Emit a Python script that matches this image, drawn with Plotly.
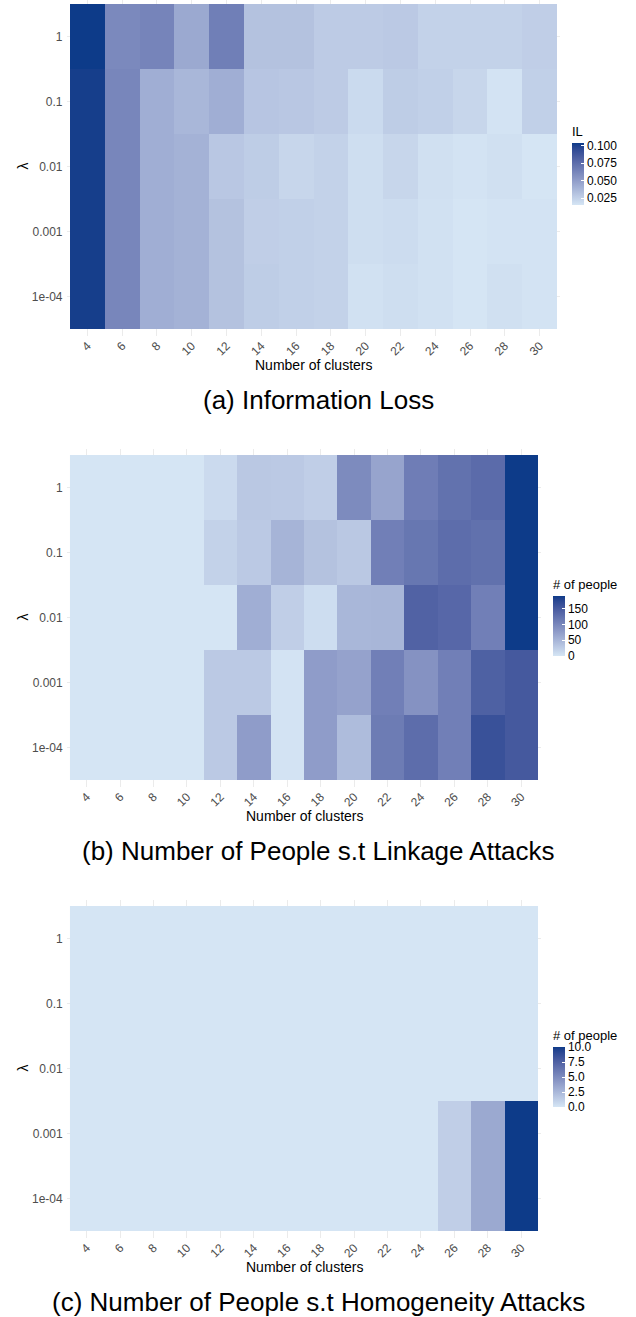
import plotly.graph_objects as go

# ---------------- data ----------------
clusters = ["4", "6", "8", "10", "12", "14", "16", "18", "20", "22", "24", "26", "28", "30"]
lambdas_top_down = ["1", "0.1", "0.01", "0.001", "1e-04"]

# (a) Information loss, rows lambda = 1, 0.1, 0.01, 0.001, 1e-04
il_l1 = [0.104, 0.0606, 0.0632, 0.0446, 0.0659, 0.0322, 0.0322, 0.0278, 0.0278, 0.0287, 0.0243, 0.0243, 0.0243, 0.0260]
il_l01 = [0.102, 0.0624, 0.0420, 0.0376, 0.0420, 0.0305, 0.0296, 0.0278, 0.0207, 0.0269, 0.0251, 0.0225, 0.0163, 0.0251]
il_l001 = [0.102, 0.0624, 0.0420, 0.0402, 0.0296, 0.0269, 0.0225, 0.0243, 0.0189, 0.0225, 0.0181, 0.0163, 0.0181, 0.0154]
il_l0001 = [0.102, 0.0624, 0.0420, 0.0402, 0.0322, 0.0260, 0.0251, 0.0243, 0.0189, 0.0198, 0.0172, 0.0154, 0.0163, 0.0163]
il_l00001 = [0.102, 0.0624, 0.0420, 0.0402, 0.0322, 0.0269, 0.0251, 0.0243, 0.0172, 0.0189, 0.0172, 0.0154, 0.0181, 0.0163]

# (b) Number of people subject to linkage attacks
lk_l1 = [0, 0, 0, 0, 11, 30, 29, 23, 95, 68, 110, 124, 131, 190]
lk_l01 = [0, 0, 0, 0, 19, 29, 51, 36, 30, 108, 118, 129, 125, 190]
lk_l001 = [0, 0, 0, 0, 0, 57, 23, 8, 48, 49, 141, 135, 108, 190]
lk_l0001 = [0, 0, 0, 0, 29, 29, 2, 76, 70, 108, 87, 108, 143, 152]
lk_l00001 = [0, 0, 0, 0, 29, 76, 2, 76, 42, 112, 129, 108, 162, 152]

# (c) Number of people subject to homogeneity attacks
hm_l1 = [0, 0, 0, 0, 0, 0, 0, 0, 0, 0, 0, 0, 0, 0]
hm_l01 = [0, 0, 0, 0, 0, 0, 0, 0, 0, 0, 0, 0, 0, 0]
hm_l001 = [0, 0, 0, 0, 0, 0, 0, 0, 0, 0, 0, 0, 0, 0]
hm_l0001 = [0, 0, 0, 0, 0, 0, 0, 0, 0, 0, 0, 1.2, 3.3, 10]
hm_l00001 = [0, 0, 0, 0, 0, 0, 0, 0, 0, 0, 0, 1.2, 3.3, 10]

captions = ["(a) Information Loss",
            "(b) Number of People s.t Linkage Attacks",
            "(c) Number of People s.t Homogeneity Attacks"]
legend_titles = ["IL", "# of people", "# of people"]
cb_tickvals = [[0.025, 0.05, 0.075, 0.1], [0, 50, 100, 150], [0, 2.5, 5, 7.5, 10]]
cb_ticktext = [["0.025", "0.050", "0.075", "0.100"], ["0", "50", "100", "150"],
               ["0.0", "2.5", "5.0", "7.5", "10.0"]]

# ---------------- colour scale (Lab interpolation, like ggplot) ----------------
LOW = "#D5E5F4"
HIGH = "#0D3B89"


def _hex2rgb(h):
    h = h.lstrip("#")
    return [int(h[i:i + 2], 16) / 255 for i in (0, 2, 4)]


def _lin(c):
    return c / 12.92 if c <= 0.04045 else ((c + 0.055) / 1.055) ** 2.4


def _delin(c):
    c = max(0.0, c)
    c = 12.92 * c if c <= 0.0031308 else 1.055 * c ** (1 / 2.4) - 0.055
    return min(1, max(0, c))


WN = (0.95047, 1.0, 1.08883)


def _f(t):
    return t ** (1 / 3) if t > 0.008856 else 7.787 * t + 16 / 116


def _finv(t):
    return t ** 3 if t ** 3 > 0.008856 else (t - 16 / 116) / 7.787


def to_lab(h):
    r, g, b = [_lin(c) for c in _hex2rgb(h)]
    X = 0.4124 * r + 0.3576 * g + 0.1805 * b
    Y = 0.2126 * r + 0.7152 * g + 0.0722 * b
    Z = 0.0193 * r + 0.1192 * g + 0.9505 * b
    fx, fy, fz = _f(X / WN[0]), _f(Y / WN[1]), _f(Z / WN[2])
    return 116 * fy - 16, 500 * (fx - fy), 200 * (fy - fz)


def from_lab(L, a, b):
    fy = (L + 16) / 116
    fx = fy + a / 500
    fz = fy - b / 200
    X, Y, Z = _finv(fx) * WN[0], _finv(fy) * WN[1], _finv(fz) * WN[2]
    r = 3.2406 * X - 1.5372 * Y - 0.4986 * Z
    g = -0.9689 * X + 1.8758 * Y + 0.0415 * Z
    bb = 0.0557 * X - 0.2040 * Y + 1.0570 * Z
    return "rgb(%d,%d,%d)" % tuple(round(_delin(c) * 255) for c in (r, g, bb))


lo, hi = to_lab(LOW), to_lab(HIGH)
NST = 20
colorscale = []
for i in range(NST + 1):
    t = i / NST
    colorscale.append([t, from_lab(*[lo[k] + (hi[k] - lo[k]) * t for k in range(3)])])

# ---------------- layout helpers ----------------
W, H = 636, 1317
FONT = "Liberation Sans, Arial, sans-serif"


def PX(px):
    return min(1.0, max(0.0, px / W))


def PY(py):
    return min(1.0, max(0.0, 1 - py / H))


# bar top/bottom are pixel positions of the colour bar itself
panels = [
    dict(top=4, left=70, right=557, cbx=572, cbtop=143, cbbot=205),
    dict(top=455, left=70, right=538, cbx=553, cbtop=596, cbbot=656),
    dict(top=906, left=70, right=538, cbx=553, cbtop=1047, cbbot=1107),
]
ROWH = 65
NR = 5
TITLE_SPACE = 20  # pixels taken by the colorbar title inside its length

datasets = [
    [il_l1, il_l01, il_l001, il_l0001, il_l00001],
    [lk_l1, lk_l01, lk_l001, lk_l0001, lk_l00001],
    [hm_l1, hm_l01, hm_l001, hm_l0001, hm_l00001],
]

fig = go.Figure()
annotations = []
layout = dict(
    width=W, height=H,
    margin=dict(l=0, r=0, t=0, b=0, autoexpand=False),
    paper_bgcolor="white", plot_bgcolor="white",
    font=dict(family=FONT, color="#000000"),
)

lambdas_bottom_up = lambdas_top_down[::-1]

for k, (p, rows) in enumerate(zip(panels, datasets)):
    sfx = "" if k == 0 else str(k + 1)
    z = rows[::-1]
    fig.add_trace(go.Heatmap(
        z=z, x=clusters, y=lambdas_bottom_up,
        coloraxis="coloraxis" + sfx,
        xaxis="x" + sfx, yaxis="y" + sfx,
        hoverinfo="skip",
    ))
    cw = (p["right"] - p["left"]) / len(clusters)
    bottom = p["top"] + ROWH * NR
    ax_top_px = max(0.0, p["top"] - 0.1 * ROWH)
    ax_bot_px = bottom + 0.1 * ROWH
    y_hi = NR - 0.5 + (p["top"] - ax_top_px) / ROWH
    y_lo = -0.5 - (ax_bot_px - bottom) / ROWH
    layout["xaxis" + sfx] = dict(
        domain=[PX(p["left"] - 0.1 * cw), PX(p["right"] + 0.1 * cw)],
        anchor="y" + sfx, range=[-0.6, len(clusters) - 0.4],
        type="category", showgrid=True, gridcolor="#EBEBEB", gridwidth=1,
        zeroline=False, showline=False, ticks="", tickangle=-45,
        tickfont=dict(family=FONT, size=12, color="#4D4D4D"),
    )
    layout["yaxis" + sfx] = dict(
        domain=[PY(ax_bot_px), PY(ax_top_px)],
        anchor="x" + sfx, range=[y_lo, y_hi],
        type="category", showgrid=True, gridcolor="#EBEBEB", gridwidth=1,
        zeroline=False, showline=False, ticks="", ticklabelstandoff=3,
        tickfont=dict(family=FONT, size=12, color="#4D4D4D"),
    )
    cb_len = (p["cbbot"] - p["cbtop"]) + TITLE_SPACE
    layout["coloraxis" + sfx] = dict(
        colorscale=colorscale,
        colorbar=dict(
            title=dict(text=legend_titles[k], side="top",
                       font=dict(family=FONT, size=13, color="#000000")),
            x=PX(p["cbx"]), xanchor="left", xpad=0,
            y=PY(p["cbbot"]), yanchor="bottom", ypad=0,
            len=cb_len, lenmode="pixels", thickness=12,
            outlinewidth=0, ticks="inside", ticklen=3, tickcolor="white",
            tickvals=cb_tickvals[k], ticktext=cb_ticktext[k],
            tickfont=dict(family=FONT, size=12, color="#000000"),
        ),
    )
    cx = (p["left"] + p["right"]) / 2
    annotations.append(dict(
        text="Number of clusters", x=PX(cx), y=PY(bottom + 36),
        xref="paper", yref="paper", xanchor="center", yanchor="middle",
        showarrow=False, font=dict(family=FONT, size=14, color="#000000")))
    annotations.append(dict(
        text="λ", x=PX(22), y=PY((p["top"] + bottom) / 2),
        xref="paper", yref="paper", xanchor="center", yanchor="middle",
        textangle=-90, showarrow=False,
        font=dict(family=FONT, size=14, color="#000000")))
    annotations.append(dict(
        text=captions[k], x=PX(318), y=PY(bottom + 71),
        xref="paper", yref="paper", xanchor="center", yanchor="middle",
        showarrow=False, font=dict(family=FONT, size=26, color="#000000")))

layout["annotations"] = annotations
fig.update_layout(**layout)
fig.write_html("out.html", config={"displayModeBar": False},
               post_script="document.body.style.margin='0px';")
